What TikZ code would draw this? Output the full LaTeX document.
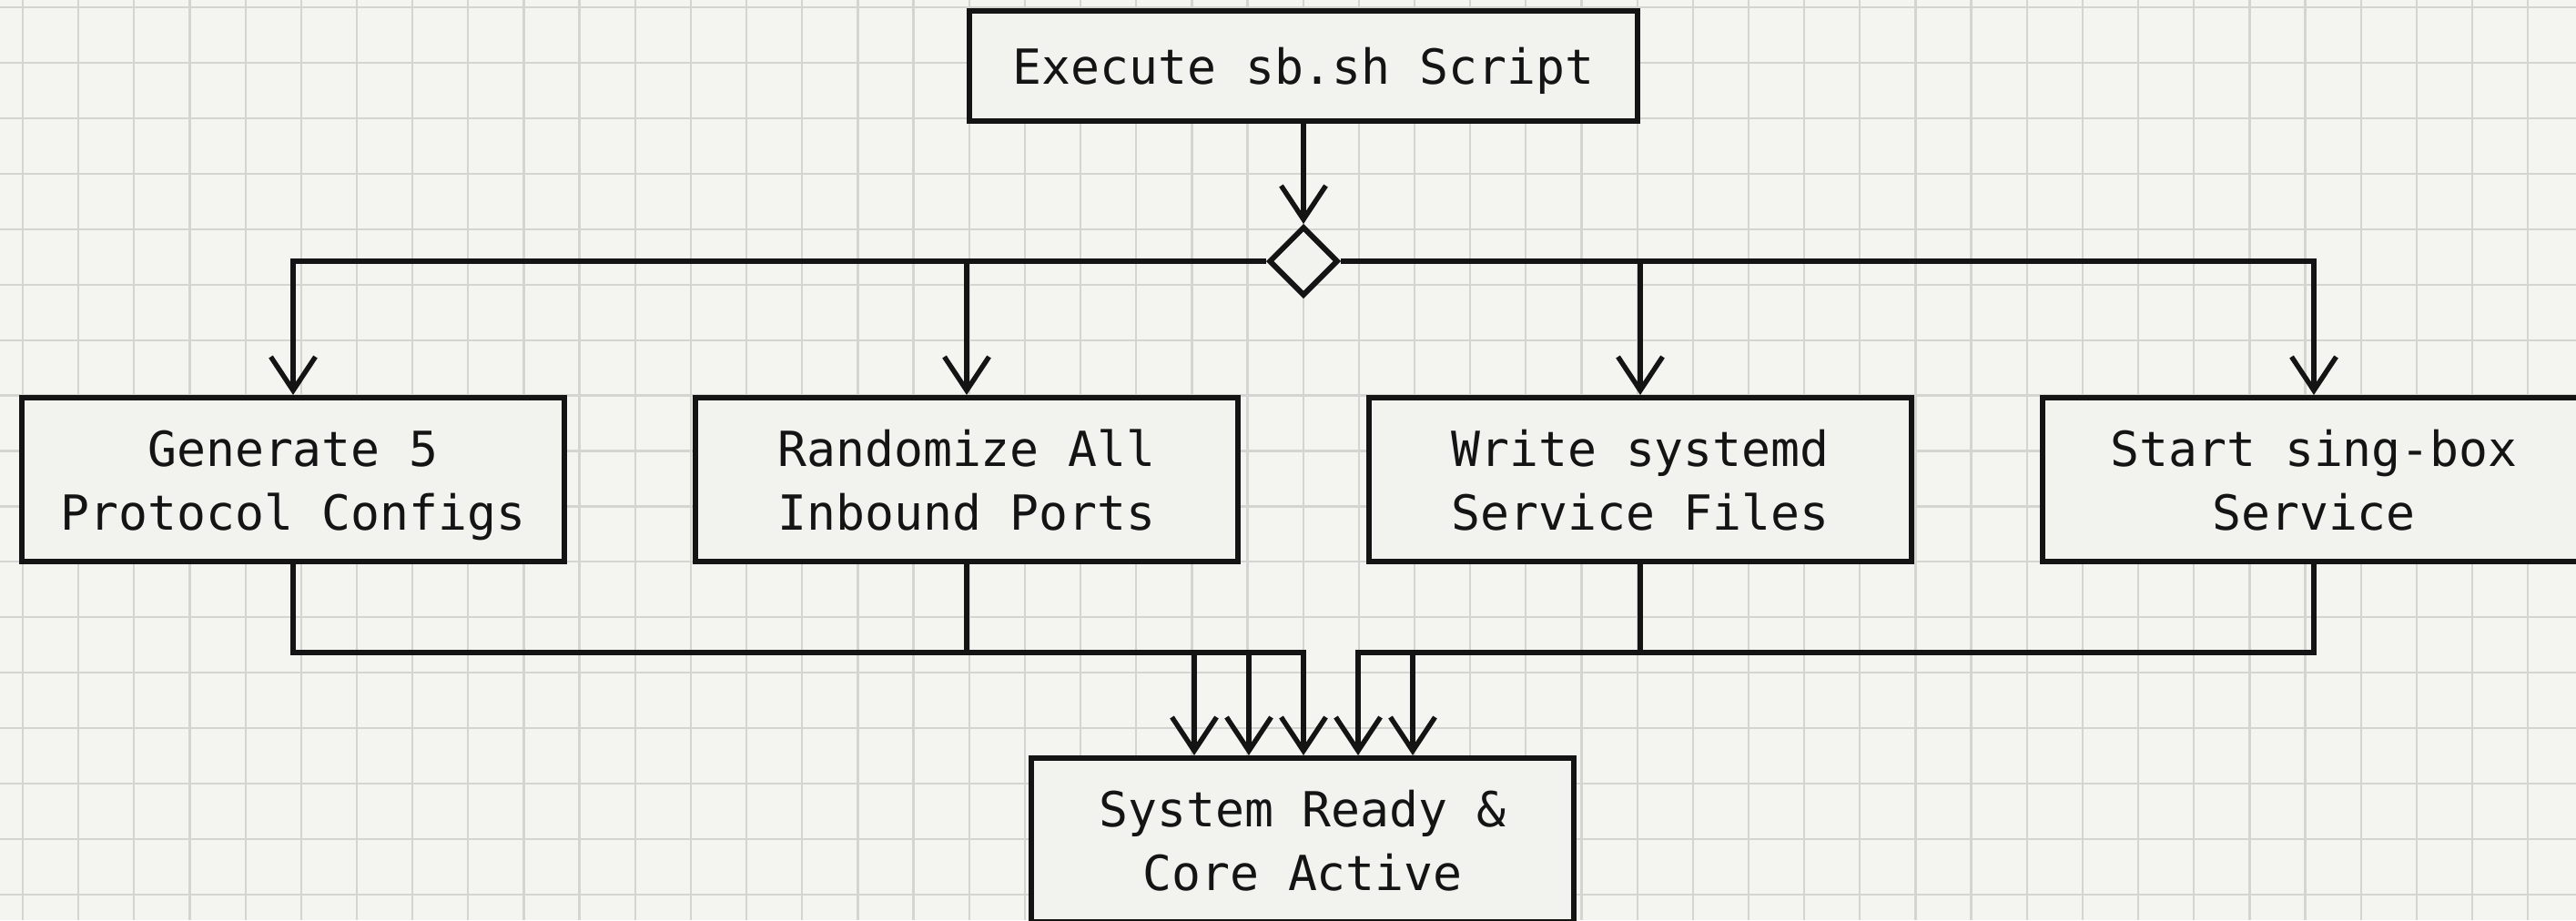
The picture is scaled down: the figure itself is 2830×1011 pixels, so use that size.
\documentclass[tikz,border=0pt]{standalone}
\usepackage{fontspec}
\setmonofont{DejaVu Sans Mono}
\usetikzlibrary{arrows.meta,shapes.geometric}
\definecolor{paper}{HTML}{F4F4F0}
\definecolor{gridc}{HTML}{D4D4D0}
\definecolor{boxfill}{HTML}{F2F2EE}
\definecolor{ink}{HTML}{141414}
% one text line with a fixed line box, so every label sits the same way in its box
\newcommand\tline[1]{\rule[-0.12cm]{0pt}{0.64cm}#1}
\tikzset{
  stepbox/.style={draw=ink, line width=1.7pt, fill=boxfill, text=ink, align=center,
    inner sep=0pt, minimum width=5.96cm, minimum height=1.8cm,
    font=\ttfamily\fontsize{15.1}{19.9}\selectfont},
  forkbox/.style={diamond, draw=ink, line width=1.7pt, fill=boxfill, aspect=1,
    inner sep=0pt, minimum width=0.76cm, minimum height=0.76cm},
  conn/.style={draw=ink, line width=1.55pt},
  flow/.style={conn, -{Straight Barb[length=0.37cm,width=0.49cm]}},
  gridline/.style={draw=gridc, line width=0.65pt},
}
\begin{document}
\begin{tikzpicture}[x=0.01cm,y=-0.01cm]
\useasboundingbox (0,0) rectangle (2830,1011);
\clip (0,0) rectangle (2830,1011);
% squared paper
\fill[paper] (0,0) rectangle (2830,1011);
\foreach \i in {0,...,45} \draw[gridline] ({25+61.16*\i},0) -- ({25+61.16*\i},1011);
\foreach \j in {0,...,16} \draw[gridline] (0,{8.3+60.9*\j}) -- (2830,{8.3+60.9*\j});

% steps
\node[stepbox, minimum width=7.34cm, minimum height=1.21cm] (start) at (1432,72.5) {\tline{Execute sb.sh Script}};
\node[forkbox] (fork) at (1432,287) {};
\node[stepbox] (gen)  at (322,527)  {\tline{Generate 5}\\\tline{Protocol Configs}};
\node[stepbox] (rand) at (1062,527) {\tline{Randomize All}\\\tline{Inbound Ports}};
\node[stepbox] (unit) at (1802,527) {\tline{Write systemd}\\\tline{Service Files}};
\node[stepbox] (svc)  at (2542,527) {\tline{Start sing-box}\\\tline{Service}};
\node[stepbox] (done) at (1431,923) {\tline{System Ready \&}\\\tline{Core Active}};

% merge points above the final step
\coordinate (m1) at (1312,717);
\coordinate (m2) at (1372,717);
\coordinate (m3) at (1432,717);
\coordinate (m4) at (1492,717);
\coordinate (m5) at (1552,717);

% fan out
\draw[flow] (start) -- (fork);
\draw[flow] (fork.west) -| (gen);
\draw[flow] (fork.west) -| (rand);
\draw[flow] (fork.east) -| (unit);
\draw[flow] (fork.east) -| (svc);

% fan in
\draw[flow] (gen)  |- (m1) -- (m1 |- done.north);
\draw[flow] (rand) |- (m2) -- (m2 |- done.north);
\draw[flow] (rand) |- (m3) -- (m3 |- done.north);
\draw[flow] (unit) |- (m4) -- (m4 |- done.north);
\draw[flow] (svc)  |- (m5) -- (m5 |- done.north);
\end{tikzpicture}
\end{document}
